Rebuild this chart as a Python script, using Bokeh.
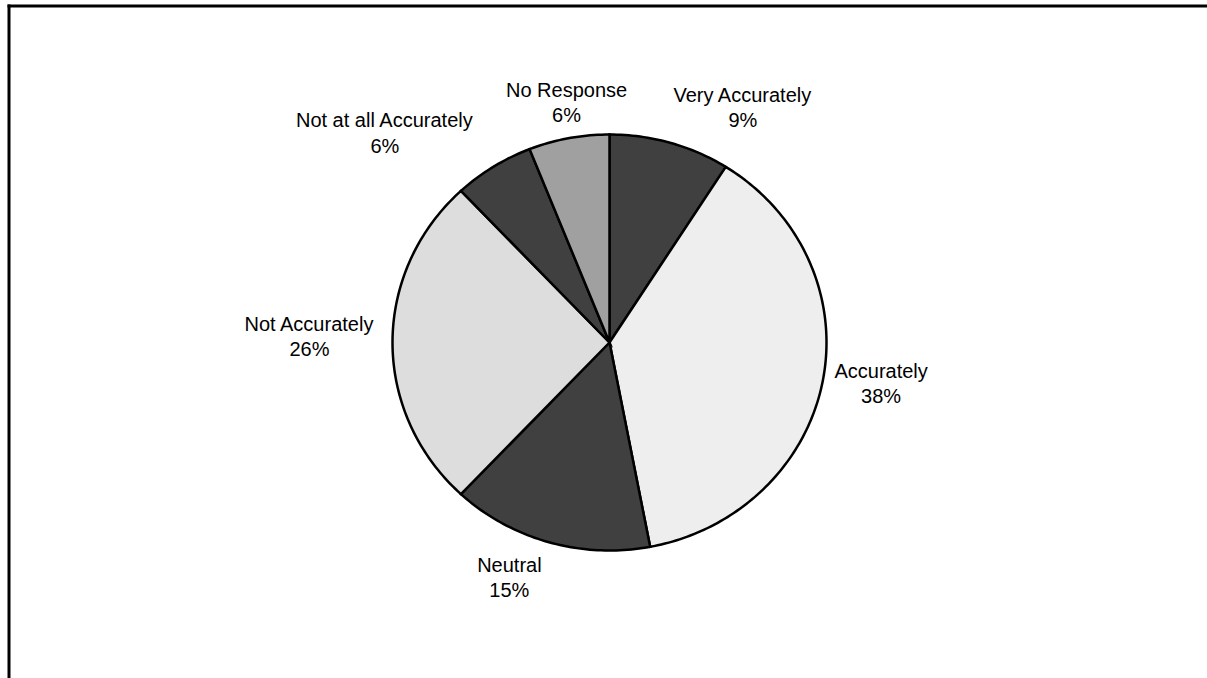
import numpy as np
from bokeh.plotting import figure
from bokeh.models import ColumnDataSource, Range1d
from bokeh.core.properties import value
from bokeh.embed import file_html
from bokeh.resources import INLINE

# ---- data ----
categories = ["Very Accurately", "Accurately", "Neutral", "Not Accurately",
              "Not at all Accurately", "No Response"]
percent = [9, 38, 15, 26, 6, 6]
colors = ["#404040", "#eeeeee", "#404040", "#dddddd", "#404040", "#a0a0a0"]

# ---- layout (figure pixel coordinates, y downward) ----
W, H = 1207, 678
CX, CY = 609, 342      # pie centre
RX, RY = 217, 208      # pie radii (slightly elliptical)
GAP = 12               # label distance outside the pie
FRAME_X, FRAME_Y = 8.5, 5.5   # chart-area border (top and left edges)
# small per-label nudges (pixels) to mimic the original label placement
nudge_x = [0, 0, -4, -6, -13, 0]
nudge_y = [0, 0, 0, -6, 0, 0]

p = figure(width=W, height=H, output_backend="svg", toolbar_location=None,
           x_range=Range1d(0, W), y_range=Range1d(H, 0),
           x_axis_type=None, y_axis_type=None, min_border=0)
p.grid.visible = False
p.outline_line_color = None
p.background_fill_color = "white"
p.border_fill_color = "white"

# frame: top and left edges of the chart area
p.segment(x0=[FRAME_X - 1.5, FRAME_X], y0=[FRAME_Y, FRAME_Y - 1.5],
          x1=[W + 5, FRAME_X], y1=[FRAME_Y, H + 5],
          line_color="black", line_width=3)

vals = np.array(percent, dtype=float)
frac = vals / vals.sum()
ends = np.cumsum(frac) * 2 * np.pi
starts = ends - frac * 2 * np.pi
mids = (starts + ends) / 2

xs, ys = [], []
for a0, a1 in zip(starts, ends):
    n = max(int((a1 - a0) / (2 * np.pi) * 360), 2)
    t = np.linspace(a0, a1, n + 1)
    xs.append([CX] + list(CX + RX * np.sin(t)) + [CX])
    ys.append([CY] + list(CY - RY * np.cos(t)) + [CY])

p.patches(xs, ys, fill_color=colors, line_color="black", line_width=2.5,
          line_join="miter")

# labels
lx, ly, anchors, texts = [], [], [], []
for i, (cat, pct, m) in enumerate(zip(categories, percent, mids)):
    s, c = np.sin(m), np.cos(m)
    lx.append(CX + (RX + GAP) * s + nudge_x[i])
    ly.append(CY - (RY + GAP) * c + nudge_y[i])
    h = "left" if s > 0.25 else ("right" if s < -0.25 else "center")
    v = "bottom" if c > 0.3 else ("top" if c < -0.3 else "center")
    if v == "center" and h == "center":
        anchors.append("center")
    else:
        anchors.append(f"{v}_{h}")
    texts.append(f"{cat}\n{pct}%")

src = ColumnDataSource(dict(x=lx, y=ly, text=texts, anchor=anchors))
p.text(x="x", y="y", text="text", anchor="anchor", source=src,
       text_align="center", text_font=value("Liberation Sans"),
       text_font_size="20px", text_color="black", text_line_height=1.15)

open("out.html", "w").write(file_html(p, INLINE))
